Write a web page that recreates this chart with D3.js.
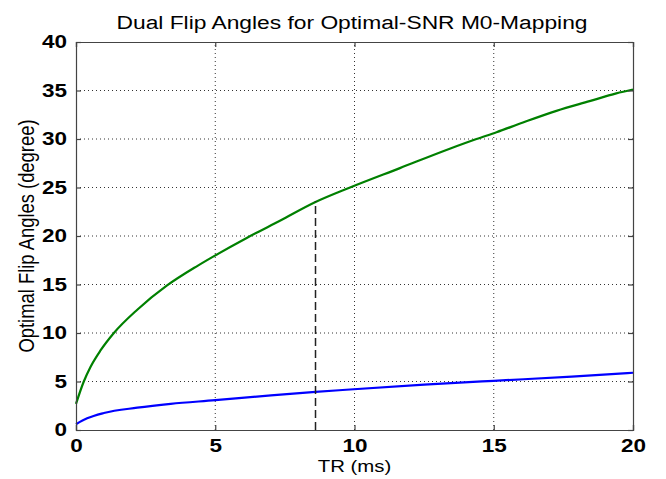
<!DOCTYPE html>
<html><head><meta charset="utf-8">
<script src="https://cdn.jsdelivr.net/npm/d3@7"></script>
<style>body{margin:0;background:#fff}svg{display:block}</style>
</head><body>
<script>
const title = "Dual Flip Angles for Optimal-SNR M0-Mapping";
const xLabel = "TR (ms)";
const yLabel = "Optimal Flip Angles (degree)";
const xTicks = [0, 5, 10, 15, 20];
const yTicks = [0, 5, 10, 15, 20, 25, 30, 35, 40];
const greenTR = [0, 0.28, 0.52, 0.88, 1.36, 2.2, 3.27, 4.35, 4.94, 6.13, 7.34, 8.6, 9.84, 11.63, 13.42, 14.38, 15.1, 16.05, 17.25, 18.44, 19.4, 20];
const greenFA = [2.7, 5.0, 6.5, 8.2, 10.0, 12.4, 14.9, 16.9, 17.9, 19.8, 21.6, 23.5, 25.0, 27.0, 29.0, 30.0, 30.7, 31.7, 32.9, 33.9, 34.7, 35.1];
const blueTR = [0, 0.4, 1.0, 2.2, 3.4, 5.0, 7.0, 8.6, 9.7, 12.5, 15, 17.8, 20];
const blueFA = [0.6, 1.2, 1.75, 2.3, 2.7, 3.07, 3.57, 3.93, 4.15, 4.67, 5.07, 5.5, 5.9];
const markerTR = [8.6, 8.6];
const markerFA = [0, 23.6];

const W = 666, H = 479;
const m = {left: 76, right: 33, top: 42, bottom: 49};
const svg = d3.select("body").append("svg").attr("width", W).attr("height", H);
const x = d3.scaleLinear().domain([0, 20]).range([m.left, W - m.right]);
const y = d3.scaleLinear().domain([0, 40]).range([H - m.bottom, m.top]);
const font = "Liberation Sans, Arial, sans-serif";

// grid
const g = svg.append("g");
g.selectAll(".gx").data(xTicks.slice(1, -1)).join("line")
  .attr("x1", d => x(d)).attr("x2", d => x(d)).attr("y1", y(0)).attr("y2", y(40))
  .attr("stroke", "#333").attr("stroke-width", 1).attr("stroke-dasharray", "1,3");
g.selectAll(".gy").data(yTicks.slice(1, -1)).join("line")
  .attr("y1", d => y(d)).attr("y2", d => y(d)).attr("x1", x(0)).attr("x2", x(20))
  .attr("stroke", "#333").attr("stroke-width", 1).attr("stroke-dasharray", "1,3");

// curves
const line = d3.line().x(d => x(d[0])).y(d => y(d[1])).curve(d3.curveMonotoneX);
svg.append("path").datum(greenTR.map((t, i) => [t, greenFA[i]]))
  .attr("d", line).attr("fill", "none").attr("stroke", "#008000").attr("stroke-width", 2.2);
svg.append("path").datum(blueTR.map((t, i) => [t, blueFA[i]]))
  .attr("d", line).attr("fill", "none").attr("stroke", "#0000ff").attr("stroke-width", 2.2);
svg.append("path").datum(markerTR.map((t, i) => [t, markerFA[i]]))
  .attr("d", d3.line().x(d => x(d[0])).y(d => y(d[1])))
  .attr("fill", "none").attr("stroke", "#222").attr("stroke-width", 1.5).attr("stroke-dasharray", "8,4");

// axes (ticks inward on all sides)
const tickLen = 5;
const axB = svg.append("g").attr("transform", `translate(0,${y(0)})`)
  .call(d3.axisBottom(x).tickValues(xTicks).tickSize(-tickLen).tickPadding(9).tickFormat(d3.format("d")));
const axT = svg.append("g").attr("transform", `translate(0,${y(40)})`)
  .call(d3.axisTop(x).tickValues(xTicks).tickSize(-tickLen).tickFormat(""));
const axL = svg.append("g").attr("transform", `translate(${x(0)},0)`)
  .call(d3.axisLeft(y).tickValues(yTicks).tickSize(-tickLen).tickPadding(9).tickFormat(d3.format("d")));
const axR = svg.append("g").attr("transform", `translate(${x(20)},0)`)
  .call(d3.axisRight(y).tickValues(yTicks).tickSize(-tickLen).tickFormat(""));
[axB, axT, axL, axR].forEach(a => {
  a.selectAll(".domain").attr("stroke", "#444").attr("stroke-width", 1.2);
  a.selectAll(".tick line").attr("stroke", "#444").attr("stroke-width", 1.2);
  a.selectAll("text").attr("fill", "#000").style("font-family", font)
    .style("font-size", "18px").style("font-weight", "bold");
});
// horizontally stretched tick labels like the reference
axB.selectAll(".tick text").attr("transform", "scale(1.25,1)");
axL.selectAll(".tick text").attr("x", 0).attr("transform", "translate(-9,0) scale(1.25,1)");

// labels
svg.append("text").attr("transform", `translate(352,29) scale(1.2,1)`).attr("text-anchor", "middle")
  .style("font-family", font).style("font-size", "19px").text(title);
svg.append("text").attr("transform", `translate(${(x(0) + x(20)) / 2},472) scale(1.2,1)`).attr("text-anchor", "middle")
  .style("font-family", font).style("font-size", "17px").text(xLabel);
svg.append("text").attr("transform", `translate(34,${(y(0) + y(40)) / 2}) rotate(-90) scale(1,1.2)`)
  .attr("text-anchor", "middle")
  .style("font-family", font).style("font-size", "18.4px").text(yLabel);
</script>
</body></html>
